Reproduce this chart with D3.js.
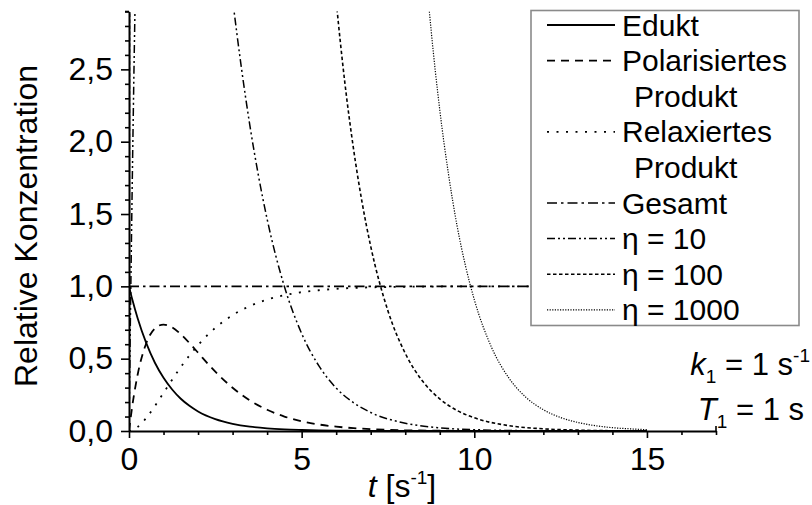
<!DOCTYPE html>
<html>
<head>
<meta charset="utf-8">
<script src="https://cdn.jsdelivr.net/npm/d3@7"></script>
<style>
  body { margin: 0; background: #fff; }
  text { font-family: "Liberation Sans", Arial, sans-serif; fill: #000; }
</style>
</head>
<body>
<script>
// values
var tMain = [0, 0.1, 0.25, 0.5, 0.75, 1, 1.25, 1.5, 1.75, 2, 2.5, 3, 3.5, 4, 4.5, 5, 5.5, 6, 6.5, 7, 8, 9, 10, 12, 15];
var edukt = [1, 0.905, 0.779, 0.607, 0.472, 0.368, 0.287, 0.223, 0.174, 0.135, 0.082, 0.050, 0.030, 0.018, 0.011, 0.007, 0.004, 0.002, 0.0015, 0.0009, 0.0003, 0.0001, 0, 0, 0];
var polarisiert = [0, 0.181, 0.389, 0.607, 0.709, 0.736, 0.716, 0.669, 0.608, 0.541, 0.410, 0.299, 0.211, 0.147, 0.100, 0.067, 0.045, 0.030, 0.020, 0.013, 0.005, 0.002, 0.001, 0, 0];
var relaxiert = [0, 0.005, 0.027, 0.090, 0.173, 0.264, 0.355, 0.442, 0.522, 0.594, 0.713, 0.801, 0.864, 0.908, 0.939, 0.960, 0.973, 0.983, 0.989, 0.993, 0.997, 0.999, 1, 1, 1];

var tGesamt = [0, 15];
var gesamt = [1, 1];

var tEta10 = [0, 0.05, 0.1, 0.15, 0.2, 0.5, 1, 2, 2.5, 2.75, 3, 3.25, 3.5, 3.75, 4, 4.5, 5, 5.5, 6, 6.5, 7, 8, 9, 10, 12, 15];
var eta10 = [0, 0.951, 1.810, 2.582, 3.275, 6.065, 7.358, 5.413, 4.104, 3.515, 2.987, 2.520, 2.113, 1.764, 1.465, 0.999, 0.674, 0.450, 0.297, 0.196, 0.128, 0.054, 0.022, 0.009, 0.0015, 0.0001];

var tEta100 = [0, 0.005, 0.01, 0.015, 0.02, 0.5, 1, 3, 5, 5.5, 5.75, 6, 6.25, 6.5, 6.75, 7, 7.5, 8, 8.5, 9, 9.5, 10, 11, 12, 13, 14, 15];
var eta100 = [0, 0.995, 1.980, 2.955, 3.921, 60.65, 73.6, 29.9, 6.74, 4.50, 3.66, 2.976, 2.41, 1.954, 1.581, 1.277, 0.830, 0.537, 0.345, 0.222, 0.142, 0.091, 0.037, 0.015, 0.006, 0.002, 0.001];

var tEta1000 = [0, 0.001, 0.002, 5, 8, 8.25, 8.5, 8.75, 9, 9.25, 9.5, 9.75, 10, 10.5, 11, 11.5, 12, 12.5, 13, 13.5, 14, 14.5, 15];
var eta1000 = [0, 1.998, 3.992, 67.4, 5.37, 4.31, 3.46, 2.77, 2.22, 1.78, 1.42, 1.137, 0.908, 0.578, 0.367, 0.232, 0.147, 0.093, 0.059, 0.037, 0.023, 0.015, 0.009];

var xMajor = [0, 5, 10, 15];
var yMajor = [0, 0.5, 1, 1.5, 2, 2.5];

var width = 812, height = 505;
var svg = d3.select("body").append("svg")
    .attr("width", width)
    .attr("height", height);

var x = d3.scaleLinear().domain([0, 17]).range([129, 716]);
var y = d3.scaleLinear().domain([0, 2.9]).range([431, 11.5]);

var de = d3.formatLocale({decimal: ",", thousands: ".", grouping: [3], currency: ["", " €"]});
var fmt = de.format(".1f");

svg.append("clipPath").attr("id", "plot")
  .append("rect")
    .attr("x", x(0)).attr("y", y(2.9))
    .attr("width", x(17) - x(0)).attr("height", y(0) - y(2.9));

// minor ticks
var xMinor = d3.range(1, 18).filter(function(d) { return d % 5 != 0; });
var yMinor = d3.range(1, 30).map(function(d) { return d / 10; })
  .filter(function(d) { return Math.round(d * 10) % 5 != 0; });

svg.append("g")
    .attr("transform", "translate(0," + y(0) + ")")
    .call(d3.axisBottom(x).tickValues(xMinor).tickSize(4).tickSizeOuter(0).tickFormat(""))
    .call(function(g) { g.select(".domain").remove(); });

svg.append("g")
    .attr("transform", "translate(" + x(0) + ",0)")
    .call(d3.axisLeft(y).tickValues(yMinor).tickSize(4).tickSizeOuter(0).tickFormat(""))
    .call(function(g) { g.select(".domain").remove(); });

var xAxis = svg.append("g")
    .attr("class", "x-axis")
    .attr("transform", "translate(0," + y(0) + ")")
    .call(d3.axisBottom(x).tickValues(xMajor).tickSize(7).tickSizeOuter(0).tickPadding(9).tickFormat(d3.format("d")));

var yAxis = svg.append("g")
    .attr("class", "y-axis")
    .attr("transform", "translate(" + x(0) + ",0)")
    .call(d3.axisLeft(y).tickValues(yMajor).tickSize(8).tickSizeOuter(0).tickPadding(8).tickFormat(fmt));

svg.selectAll(".tick line").attr("stroke", "#000").attr("stroke-width", 1.6);
svg.selectAll(".domain").attr("stroke", "#000").attr("stroke-width", 2);
svg.selectAll(".tick text")
    .style("font-family", "'Liberation Sans', Arial, sans-serif")
    .style("font-size", "32px")
    .attr("fill", "#000");

// end mark of x axis and top mark of y axis
svg.append("line")
    .attr("x1", x(17)).attr("x2", x(17))
    .attr("y1", y(0)).attr("y2", y(0) - 5)
    .attr("stroke", "#000").attr("stroke-width", 1.6);
svg.append("line")
    .attr("x1", x(0)).attr("x2", x(0) - 4)
    .attr("y1", y(2.9)).attr("y2", y(2.9))
    .attr("stroke", "#000").attr("stroke-width", 1.6);

// curves
var series = [
  {name: "Edukt", t: tMain, v: edukt, dash: null, w: 1.8},
  {name: "Polarisiertes", name2: "Produkt", t: tMain, v: polarisiert, dash: "8,6", w: 1.8},
  {name: "Relaxiertes", name2: "Produkt", t: tMain, v: relaxiert, dash: "2,7.5", w: 1.8},
  {name: "Gesamt", t: tGesamt, v: gesamt, dash: "10,4,2.5,4", w: 1.6},
  {name: "\u03b7 = 10", t: tEta10, v: eta10, dash: "8,3,2,3,2,3", w: 1.5},
  {name: "\u03b7 = 100", t: tEta100, v: eta100, dash: "3.5,2.5", w: 1.6},
  {name: "\u03b7 = 1000", t: tEta1000, v: eta1000, dash: "1.2,1.4", w: 1.2}
];

var line = d3.line()
    .x(function(d) { return x(d[0]); })
    .y(function(d) { return y(d[1]); })
    .curve(d3.curveMonotoneX);

var curves = svg.append("g").attr("clip-path", "url(#plot)");
series.forEach(function(s) {
  curves.append("path")
      .datum(d3.zip(s.t, s.v))
      .attr("d", line)
      .attr("fill", "none")
      .attr("stroke", "#000")
      .attr("stroke-width", s.w)
      .attr("stroke-dasharray", s.dash);
});

// legend
var legend = svg.append("g");
legend.append("rect")
    .attr("x", 531).attr("y", 10.5)
    .attr("width", 268).attr("height", 315)
    .attr("fill", "#fff")
    .attr("stroke", "#8a8a8a")
    .attr("stroke-width", 1.6);

var rowY = 25, rowH = 35.6;
series.forEach(function(s) {
  legend.append("line")
      .attr("x1", 547).attr("x2", 615)
      .attr("y1", rowY).attr("y2", rowY)
      .attr("stroke", "#000")
      .attr("stroke-width", s.w)
      .attr("stroke-dasharray", s.dash);
  legend.append("text")
      .attr("x", 622).attr("y", rowY + 10.5)
      .style("font-size", "30px")
      .text(s.name);
  rowY += rowH;
  if (s.name2) {
    legend.append("text")
        .attr("x", 634).attr("y", rowY + 10.5)
        .style("font-size", "30px")
        .text(s.name2);
    rowY += rowH;
  }
});

// axis titles
svg.append("text")
    .attr("transform", "translate(37,226) rotate(-90)")
    .attr("text-anchor", "middle")
    .style("font-size", "32px")
    .text("Relative Konzentration");

var xt = svg.append("text")
    .attr("x", 402).attr("y", 497)
    .attr("text-anchor", "middle")
    .style("font-size", "32px");
xt.append("tspan").style("font-style", "italic").text("t");
xt.append("tspan").text(" [s");
xt.append("tspan").attr("dy", -13).style("font-size", "19px").text("-1");
xt.append("tspan").attr("dy", 13).text("]");

// parameter notes
var k = svg.append("text")
    .attr("x", 810).attr("y", 375)
    .attr("text-anchor", "end")
    .style("font-size", "31px");
k.append("tspan").style("font-style", "italic").text("k");
k.append("tspan").attr("dy", 8).style("font-size", "19px").text("1");
k.append("tspan").attr("dy", -8).text(" = 1 s");
k.append("tspan").attr("dy", -13).style("font-size", "19px").text("-1");

var T = svg.append("text")
    .attr("x", 804).attr("y", 420)
    .attr("text-anchor", "end")
    .style("font-size", "31px");
T.append("tspan").style("font-style", "italic").text("T");
T.append("tspan").attr("dy", 8).style("font-size", "19px").text("1");
T.append("tspan").attr("dy", -8).text(" = 1 s");
</script>
</body>
</html>
